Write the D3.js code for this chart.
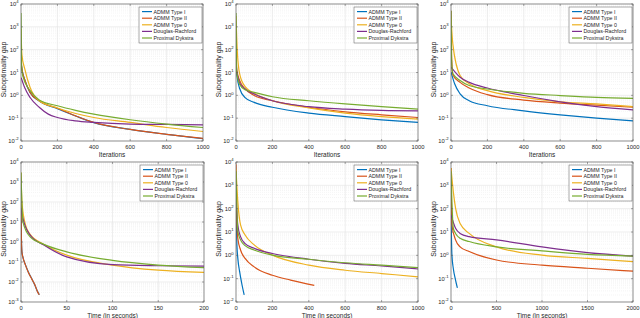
<!DOCTYPE html>
<html>
<head>
<meta charset="utf-8">
<script src="https://cdn.jsdelivr.net/npm/d3@7"></script>
<style>
  body { margin: 0; background: #fff; }
  svg { display: block; }
  text { font-family: "Liberation Sans", Arial, sans-serif; fill: #262626; }
</style>
</head>
<body>
<svg id="fig" width="640" height="318"></svg>
<script>
var seriesNames = ["ADMM Type I", "ADMM Type II", "ADMM Type 0", "Douglas-Rachford", "Proximal Dykstra"];
var seriesColors = ["#0072BD", "#D95319", "#EDB120", "#7E2F8E", "#77AC30"];

// tick values
var iterTicks = [0, 200, 400, 600, 800, 1000];
var timeTicksA = [0, 50, 100, 150, 200];
var timeTicksB = [0, 200, 400, 600, 800, 1000];
var timeTicksC = [0, 500, 1000, 1500, 2000];

// panel A (iterations)
var itA_typeI = [[1, 25], [5, 14], [20, 5], [50, 1.3], [100, 0.57], [200, 0.26], [300, 0.125], [400, 0.064], [600, 0.032], [800, 0.0195], [1000, 0.0128]];
var itA_typeII = [[1, 30], [5, 15], [20, 5], [50, 1.35], [100, 0.58], [200, 0.27], [300, 0.126], [400, 0.065], [600, 0.032], [800, 0.0195], [1000, 0.013]];
var itA_type0 = [[0, 800], [5, 60], [20, 15], [50, 2.2], [100, 0.58], [200, 0.28], [400, 0.107], [600, 0.065], [800, 0.039], [1000, 0.026]];
var itA_dr = [[1, 6], [20, 2.2], [50, 0.8], [100, 0.3], [150, 0.15], [200, 0.107], [300, 0.076], [400, 0.065], [600, 0.055], [800, 0.053], [1000, 0.051]];
var itA_pd = [[0, 4000], [3, 20], [10, 7], [50, 1.6], [100, 0.63], [200, 0.35], [300, 0.22], [400, 0.15], [600, 0.085], [800, 0.055], [1000, 0.039]];

// panel B (iterations)
var itB_typeI = [[1, 30], [5, 8], [20, 2], [50, 0.8], [100, 0.49], [200, 0.3], [400, 0.166], [600, 0.117], [800, 0.085], [1000, 0.065]];
var itB_typeII = [[0, 40], [5, 12], [20, 4.5], [50, 1.9], [100, 0.98], [200, 0.58], [400, 0.3], [600, 0.19], [800, 0.14], [1000, 0.107]];
var itB_type0 = [[0, 3000], [7, 90], [20, 8.7], [50, 2.4], [100, 1.23], [200, 0.58], [400, 0.28], [600, 0.166], [800, 0.117], [1000, 0.091]];
var itB_dr = [[1, 13], [20, 3.5], [50, 1.9], [100, 1.15], [200, 0.58], [400, 0.32], [600, 0.25], [800, 0.22], [1000, 0.21]];
var itB_pd = [[0, 4000], [3, 12], [20, 3], [50, 1.75], [100, 1.35], [200, 0.87], [400, 0.58], [600, 0.42], [800, 0.32], [1000, 0.25]];

// panel C (iterations)
var itC_typeI = [[1, 10], [20, 3.2], [50, 1.15], [100, 0.58], [200, 0.35], [400, 0.21], [600, 0.14], [800, 0.1], [1000, 0.076]];
var itC_typeII = [[0, 5000], [3, 60], [10, 8], [50, 3.7], [100, 2.1], [200, 1.07], [400, 0.62], [600, 0.46], [800, 0.37], [1000, 0.3]];
var itC_type0 = [[0, 2500], [10, 180], [50, 7.4], [100, 3.2], [200, 1.6], [400, 0.81], [600, 0.52], [800, 0.42], [1000, 0.32]];
var itC_dr = [[1, 17], [50, 6.2], [100, 3.7], [200, 2.1], [400, 0.98], [600, 0.52], [800, 0.32], [1000, 0.23]];
var itC_pd = [[0, 5000], [3, 40], [10, 9], [50, 4.5], [100, 2.7], [200, 1.9], [400, 1.23], [600, 0.98], [800, 0.81], [1000, 0.74]];

// panel D (seconds)
var tmA_typeI = [[0, 100], [0.3, 4], [1, 0.32], [2, 0.18], [5, 0.07], [8, 0.032], [12, 0.014], [15, 0.0072], [18, 0.0034], [20, 0.0023]];
var tmA_typeII = [[0, 100], [0.3, 4], [1, 0.31], [2, 0.18], [5, 0.068], [8, 0.031], [12, 0.0135], [15, 0.0075], [18, 0.0033], [20, 0.0023]];
var tmA_type0 = [[0, 3000], [1, 100], [5, 7], [10, 2.4], [25, 0.76], [50, 0.22], [100, 0.07], [150, 0.039], [200, 0.03]];
var tmA_dr = [[0, 50], [2, 16], [10, 2.2], [25, 0.7], [50, 0.18], [100, 0.074], [150, 0.065], [200, 0.062]];
var tmA_pd = [[0, 3000], [2, 10.5], [10, 1.8], [25, 0.76], [50, 0.32], [100, 0.12], [150, 0.07], [200, 0.052]];

// panel E (seconds)
var tmB_typeI = [[0, 100], [5, 2.8], [10, 0.74], [20, 0.2], [30, 0.072], [45, 0.02]];
var tmB_typeII = [[0, 8000], [5, 20], [10, 5.4], [25, 1.7], [50, 0.74], [100, 0.32], [200, 0.14], [300, 0.087], [430, 0.052]];
var tmB_type0 = [[0, 5000], [10, 200], [25, 20], [50, 7.4], [100, 2.8], [200, 1.02], [400, 0.38], [600, 0.23], [800, 0.166], [1000, 0.12]];
var tmB_dr = [[0, 200], [10, 20], [25, 6.3], [50, 3.2], [100, 2], [200, 1.2], [400, 0.68], [600, 0.45], [800, 0.35], [1000, 0.26]];
var tmB_pd = [[0, 4000], [10, 10.5], [25, 4.6], [50, 2.6], [100, 1.7], [200, 1.02], [400, 0.68], [600, 0.48], [800, 0.38], [1000, 0.3]];

// panel F (seconds)
var tmC_typeI = [[0, 100], [10, 1.02], [25, 0.28], [50, 0.087], [70, 0.04]];
var tmC_typeII = [[0, 5500], [10, 20], [50, 4.6], [100, 2.3], [200, 1.45], [500, 0.63], [1000, 0.38], [1500, 0.28], [2000, 0.21]];
var tmC_type0 = [[0, 5500], [25, 550], [50, 105], [100, 23], [200, 8.7], [500, 2.3], [1000, 1.02], [1500, 0.74], [2000, 0.54]];
var tmC_dr = [[0, 54], [50, 14.5], [100, 8.7], [200, 6.3], [500, 4.6], [1000, 2.3], [1500, 1.3], [2000, 0.93]];
var tmC_pd = [[0, 4000], [25, 14.5], [50, 8.7], [100, 5.4], [200, 3.9], [500, 2.3], [1000, 1.55], [1500, 1.1], [2000, 0.93]];

// layout of the six axes
var panels = [
  { left: 21, right: 203, top: 4, bottom: 141, xMax: 1000, ticks: iterTicks, yMinExp: -2, xlabel: "Iterations",
    lines: [itA_typeI, itA_typeII, itA_type0, itA_dr, itA_pd] },
  { left: 236, right: 418, top: 4, bottom: 141, xMax: 1000, ticks: iterTicks, yMinExp: -2, xlabel: "Iterations",
    lines: [itB_typeI, itB_typeII, itB_type0, itB_dr, itB_pd] },
  { left: 451, right: 633, top: 4, bottom: 141, xMax: 1000, ticks: iterTicks, yMinExp: -2, xlabel: "Iterations",
    lines: [itC_typeI, itC_typeII, itC_type0, itC_dr, itC_pd] },
  { left: 21, right: 204, top: 162, bottom: 302, xMax: 200, ticks: timeTicksA, yMinExp: -3, xlabel: "Time (in seconds)",
    lines: [tmA_typeI, tmA_typeII, tmA_type0, tmA_dr, tmA_pd] },
  { left: 236, right: 418, top: 162, bottom: 302, xMax: 1000, ticks: timeTicksB, yMinExp: -2, xlabel: "Time (in seconds)",
    lines: [tmB_typeI, tmB_typeII, tmB_type0, tmB_dr, tmB_pd] },
  { left: 451, right: 633, top: 162, bottom: 302, xMax: 2000, ticks: timeTicksC, yMinExp: -2, xlabel: "Time (in seconds)",
    lines: [tmC_typeI, tmC_typeII, tmC_type0, tmC_dr, tmC_pd] }
];

var svg = d3.select("#fig");

panels.forEach(function (p, pi) {
  var x = d3.scaleLinear().domain([0, p.xMax]).range([p.left, p.right]);
  var y = d3.scaleLog().domain([Math.pow(10, p.yMinExp), 1e4]).range([p.bottom, p.top]);
  var g = svg.append("g");

  g.append("rect")
    .attr("x", p.left).attr("y", p.top)
    .attr("width", p.right - p.left).attr("height", p.bottom - p.top)
    .attr("fill", "#fff");

  // minor grid (log)
  var minors = [];
  for (var e = p.yMinExp; e < 4; e++) {
    for (var m = 2; m <= 9; m++) minors.push(m * Math.pow(10, e));
  }
  g.selectAll("line.minor").data(minors).enter().append("line")
    .attr("x1", p.left).attr("x2", p.right)
    .attr("y1", function (d) { return y(d); }).attr("y2", function (d) { return y(d); })
    .attr("stroke", "#ebebeb").attr("stroke-width", 0.5).attr("stroke-dasharray", "1,1");

  var decades = d3.range(p.yMinExp, 5);
  g.selectAll("line.ymaj").data(decades).enter().append("line")
    .attr("x1", p.left).attr("x2", p.right)
    .attr("y1", function (d) { return y(Math.pow(10, d)); })
    .attr("y2", function (d) { return y(Math.pow(10, d)); })
    .attr("stroke", "#e2e2e2").attr("stroke-width", 0.6);

  g.selectAll("line.xmaj").data(p.ticks).enter().append("line")
    .attr("x1", function (d) { return x(d); }).attr("x2", function (d) { return x(d); })
    .attr("y1", p.top).attr("y2", p.bottom)
    .attr("stroke", "#e2e2e2").attr("stroke-width", 0.6);

  // data lines
  var clipId = "clip" + pi;
  svg.append("clipPath").attr("id", clipId).append("rect")
    .attr("x", p.left).attr("y", p.top)
    .attr("width", p.right - p.left).attr("height", p.bottom - p.top);

  var line = d3.line()
    .x(function (d) { return x(d[0]); })
    .y(function (d) { return y(d[1]); })
    .curve(d3.curveMonotoneX);

  g.append("g").attr("clip-path", "url(#" + clipId + ")")
    .selectAll("path").data(p.lines).enter().append("path")
    .attr("d", line)
    .attr("fill", "none")
    .attr("stroke", function (d, i) { return seriesColors[i]; })
    .attr("stroke-width", 1.2)
    .attr("stroke-linejoin", "round");

  // box + ticks
  g.append("rect")
    .attr("x", p.left).attr("y", p.top)
    .attr("width", p.right - p.left).attr("height", p.bottom - p.top)
    .attr("fill", "none").attr("stroke", "#555").attr("stroke-width", 0.6);

  p.ticks.forEach(function (t) {
    g.append("line").attr("x1", x(t)).attr("x2", x(t)).attr("y1", p.bottom).attr("y2", p.bottom - 2)
      .attr("stroke", "#555").attr("stroke-width", 0.5);
    g.append("line").attr("x1", x(t)).attr("x2", x(t)).attr("y1", p.top).attr("y2", p.top + 2)
      .attr("stroke", "#555").attr("stroke-width", 0.5);
    g.append("text").attr("x", x(t)).attr("y", p.bottom + 7.5)
      .attr("text-anchor", "middle").attr("font-size", 5.8).text(t);
  });

  decades.forEach(function (e) {
    var yy = y(Math.pow(10, e));
    g.append("line").attr("x1", p.left).attr("x2", p.left + 2).attr("y1", yy).attr("y2", yy)
      .attr("stroke", "#555").attr("stroke-width", 0.5);
    g.append("line").attr("x1", p.right).attr("x2", p.right - 2).attr("y1", yy).attr("y2", yy)
      .attr("stroke", "#555").attr("stroke-width", 0.5);
    var lab = g.append("text").attr("x", p.left - 2.5).attr("y", yy + 2)
      .attr("text-anchor", "end").attr("font-size", 5.8);
    lab.append("tspan").text("10");
    lab.append("tspan").attr("font-size", 4.2).attr("dy", -2.6).text(e < 0 ? "-" + (-e) : e);
  });

  // axis labels
  g.append("text").attr("x", (p.left + p.right) / 2).attr("y", p.bottom + 15.5)
    .attr("text-anchor", "middle").attr("font-size", 6.4).text(p.xlabel);
  g.append("text")
    .attr("transform", "translate(" + (p.left - 15) + "," + ((p.top + p.bottom) / 2 - 3) + ") rotate(-90)")
    .attr("text-anchor", "middle").attr("font-size", 7).text("Suboptimality gap");

  // legend
  var lw = 63, lh = 36, lx = p.right - lw - 1, ly = p.top + 3;
  var leg = g.append("g");
  leg.append("rect").attr("x", lx).attr("y", ly).attr("width", lw).attr("height", lh)
    .attr("fill", "#fff").attr("stroke", "#555").attr("stroke-width", 0.5);
  seriesNames.forEach(function (name, i) {
    var cy = ly + 4.6 + i * 6.6;
    leg.append("line").attr("x1", lx + 3).attr("x2", lx + 13).attr("y1", cy).attr("y2", cy)
      .attr("stroke", seriesColors[i]).attr("stroke-width", 1.2);
    leg.append("text").attr("x", lx + 14.5).attr("y", cy + 1.9).attr("font-size", 5.3).text(name);
  });
});
</script>
</body>
</html>
